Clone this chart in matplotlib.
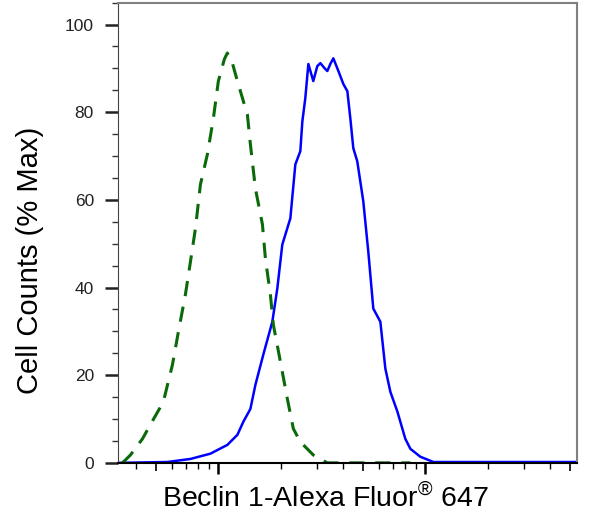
import numpy as np
import matplotlib.pyplot as plt
from matplotlib.ticker import LogLocator, NullFormatter, MultipleLocator

plt.rcParams['font.family'] = ['Liberation Sans', 'DejaVu Sans']
plt.rcParams['mathtext.fontset'] = 'custom'
plt.rcParams['mathtext.rm'] = 'Liberation Sans'

# isotype control (green dashed)
ctrl_x = [344, 376, 430, 469, 542, 600, 641, 693, 733, 775, 819, 885, 946, 1000,
          1069, 1105, 1169, 1236, 1321, 1381, 1428, 1510, 1633, 1688, 1784, 1844,
          1994, 2155, 2303, 2489, 2876, 3362, 8470]
ctrl_y = [0, 1.8, 5.5, 8.7, 13.9, 22.4, 29.9, 38.4, 45.9, 53.5, 63.5, 70.4, 78.6, 87.1,
          92.1, 93.5, 91.2, 87.1, 82.5, 79.5, 72.7, 62.6, 54.4, 46.6, 38.4, 31.5,
          23.1, 14.6, 7.8, 4.8, 1.8, 0, 0]

# Beclin 1 stained sample (blue)
beclin_x = [325, 567, 733, 915, 1105, 1236, 1321, 1428, 1510, 1649, 1823, 1927, 2037,
            2228, 2355, 2489, 2546, 2631, 2722, 2876, 3006, 3111, 3251, 3362, 3475,
            3594, 3802, 4020, 4201, 4342, 4488, 4691, 5015, 5303, 5607, 6064, 6412,
            6780, 7330, 8005, 8470, 9467, 10940, 54200]
beclin_y = [0, 0.2, 0.9, 2.1, 4.1, 6.4, 9.4, 12.3, 17.8, 24.7, 32.2, 39.8, 49.8,
            55.8, 68.1, 71.1, 77.9, 83.2, 91.0, 87.1, 90.5, 91.2, 90.1, 89.4, 91.0,
            92.3, 89.4, 86.4, 84.8, 78.6, 71.8, 68.8, 59.7, 48.2, 35.2, 32.2, 21.5,
            16.2, 11.7, 5.5, 3.2, 1.4, 0.2, 0.2]

fig = plt.figure(figsize=(6, 5.26), dpi=100)
ax = fig.add_axes([0.197, 0.120, 0.765, 0.875])

ax.plot(beclin_x, beclin_y, color='#0000ff', lw=1.8, solid_joinstyle='round')
l, = ax.plot(ctrl_x, ctrl_y, color='#0a6a0a', lw=2.2)
l.set_dashes([5, 3.5])

ax.set_xscale('log')
ax.set_xlim(10**2.516, 10**4.734)
ax.set_ylim(0, 105)

ax.xaxis.set_major_locator(LogLocator(base=10, numticks=10))
ax.xaxis.set_minor_locator(LogLocator(base=10, subs=[2, 3, 4, 6, 7, 8, 9], numticks=20))
ax.xaxis.set_major_formatter(NullFormatter())
ax.xaxis.set_minor_formatter(NullFormatter())
ax.tick_params(axis='x', which='major', length=8, width=1.8, color='black')
ax.tick_params(axis='x', which='minor', length=4, width=1, color='black')

# medium ticks at the 5s
sec = ax.secondary_xaxis('bottom')
sec.set_xticks([500, 5000, 50000])
sec.set_xticklabels([])
sec.tick_params(length=6, width=1.2, color='black')
sec.xaxis.set_minor_locator(plt.NullLocator())
sec.spines['bottom'].set_visible(False)

ax.yaxis.set_major_locator(MultipleLocator(20))
ax.yaxis.set_minor_locator(MultipleLocator(5))
ax.tick_params(axis='y', which='major', length=9.5, width=1.8, pad=8,
               labelsize=12.5, labelcolor='#222222', color='#222222')
ax.tick_params(axis='y', which='minor', length=4.5, width=1, color='#333333')

ax.spines['left'].set_color('#444444')
ax.spines['bottom'].set_color('black')
ax.spines['bottom'].set_linewidth(1.5)
for s in ['top', 'right']:
    ax.spines[s].set_color('#808080')
    ax.spines[s].set_linewidth(1.5)

fig.text(30 / 600, 1 - 260 / 526, 'Cell Counts (% Max)', fontsize=21,
         rotation=90, ha='center', va='center')
fig.text(325 / 600, 1 - 498 / 526, r'Beclin 1-Alexa Fluor$^{\mathregular{®}}$ 647',
         fontsize=20.5, ha='center', va='center')

fig.savefig('out.png', dpi=100)
